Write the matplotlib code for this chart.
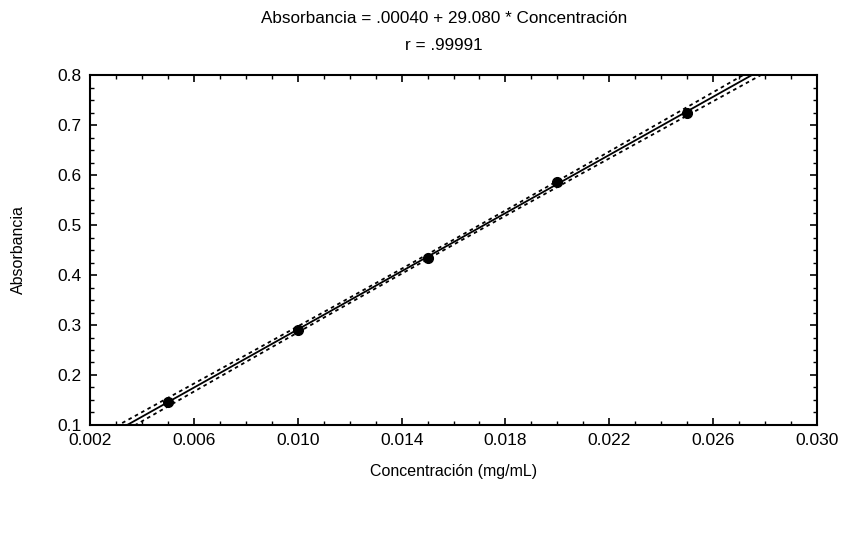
import numpy as np
import matplotlib
matplotlib.use("Agg")
import matplotlib.pyplot as plt
from matplotlib.ticker import FixedLocator, MultipleLocator, FormatStrFormatter

# datos de calibracion
concentracion = [0.005, 0.010, 0.015, 0.020, 0.025]
absorbancia = [0.145, 0.290, 0.435, 0.587, 0.725]
intercepto = 0.00040
pendiente = 29.080
t_crit = 3.182  # t(0.975, n-2=3)
xticks = [0.002, 0.006, 0.010, 0.014, 0.018, 0.022, 0.026, 0.030]

plt.rcParams['font.family'] = ['Liberation Sans', 'DejaVu Sans']

x = np.array(concentracion)
y = np.array(absorbancia)
n = len(x)
resid = y - (intercepto + pendiente * x)
s = np.sqrt(np.sum(resid ** 2) / (n - 2))
sxx = np.sum((x - x.mean()) ** 2)

xx = np.linspace(0.0025, 0.0285, 300)
yy = intercepto + pendiente * xx
se = s * np.sqrt(1.0 / n + (xx - x.mean()) ** 2 / sxx)

fig = plt.figure(figsize=(8.43, 5.40), dpi=100)
ax = fig.add_axes([0.107, 0.213, 0.862, 0.648])

ax.plot(xx, yy, color='black', lw=1.3)
ax.plot(xx, yy + t_crit * se, color='black', lw=1.3, ls=(0, (2, 2)))
ax.plot(xx, yy - t_crit * se, color='black', lw=1.3, ls=(0, (2, 2)))
ax.plot(x, y, 'o', color='black', ms=7)

ax.set_xlim(0.002, 0.030)
ax.set_ylim(0.1, 0.8)
ax.xaxis.set_major_locator(FixedLocator(xticks))
ax.xaxis.set_minor_locator(MultipleLocator(0.001))
ax.yaxis.set_major_locator(MultipleLocator(0.1))
ax.yaxis.set_minor_locator(MultipleLocator(0.025))
ax.xaxis.set_major_formatter(FormatStrFormatter('%.3f'))
ax.yaxis.set_major_formatter(FormatStrFormatter('%.1f'))
ax.tick_params(which='both', direction='in', top=True, right=True, labelsize=12.5)
ax.tick_params(which='major', length=5, width=1.2, pad=6)
ax.tick_params(which='minor', length=3, width=1.0)
for sp in ax.spines.values():
    sp.set_linewidth(1.5)

ax.set_xlabel('Concentración (mg/mL)', fontsize=11.5, labelpad=11)
ax.set_ylabel('Absorbancia', fontsize=11.5, labelpad=23)
fig.text(0.527, 0.966, 'Absorbancia = .00040 + 29.080 * Concentración',
         ha='center', va='center', fontsize=12.3)
fig.text(0.527, 0.916, 'r = .99991', ha='center', va='center', fontsize=12.3)

plt.savefig("out.png", dpi=100)
